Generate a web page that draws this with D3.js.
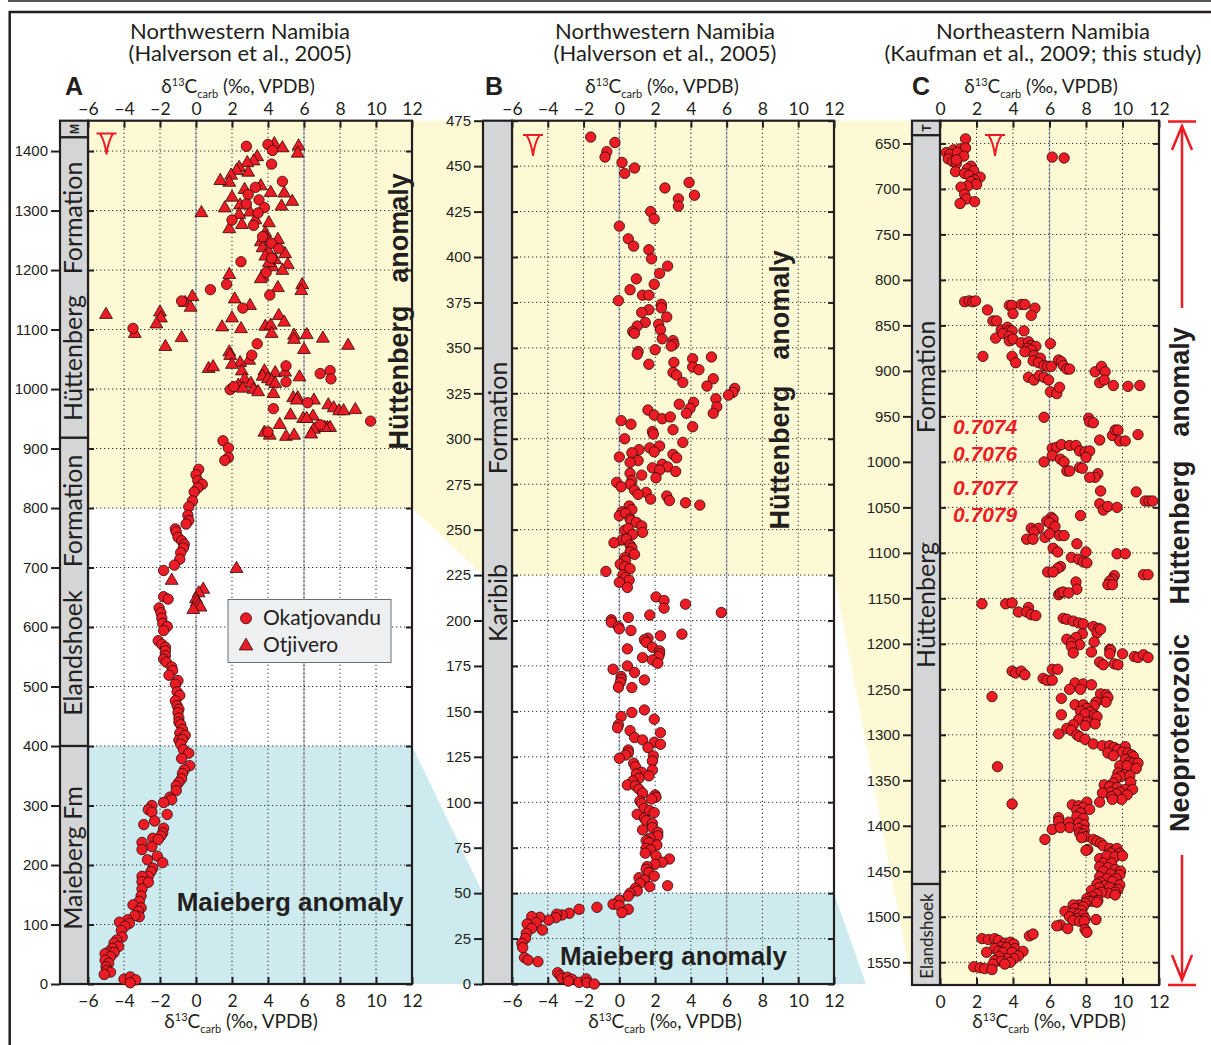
<!DOCTYPE html>
<html>
<head>
<meta charset="utf-8">
<script src="https://cdn.jsdelivr.net/npm/d3@7"></script>
<style>
  body { margin: 0; background: #fff; }
  svg { display: block; }
</style>
</head>
<body>
<svg id="fig" width="1211" height="1045"></svg>
<script>
// ---------------------------------------------------------------------------
// δ13C(carb) profiles, Namibia. Each record is [δ13C ‰ VPDB, height/depth m].
// ---------------------------------------------------------------------------
const xTicksNW = [-6, -4, -2, 0, 2, 4, 6, 8, 10, 12];
const xTicksNE = [0, 2, 4, 6, 8, 10, 12];
const yTicksA = [0, 100, 200, 300, 400, 500, 600, 700, 800, 900, 1000, 1100, 1200, 1300, 1400];
const yTicksB = [0, 25, 50, 75, 100, 125, 150, 175, 200, 225, 250, 275, 300, 325, 350, 375, 400, 425, 450, 475];
const yTicksC = [650, 700, 750, 800, 850, 900, 950, 1000, 1050, 1100, 1150, 1200, 1250, 1300, 1350, 1400, 1450, 1500, 1550];

// Panel A, Okatjovandu section (circles)
const okatjovandu = [
  [2.8,1408],[4.0,1411],[4.25,1401],[4.2,1378],[4.8,1349],[3.3,1339],[2.9,1327],[3.5,1318],[2.8,1311],[3.8,1305],
  [3.45,1296],[2.0,1284],[3.2,1275],[3.7,1256],[4.2,1245],[4.6,1236],[4.2,1220],[2.5,1214],[3.9,1196],[0.8,1167],
  [1.7,1176],[4.1,1158],[-0.8,1148],[2.6,1136],[-3.5,1102],[3.4,1076],[3.1,1057],[5.0,1039],[5.0,1012],[6.9,1026],
  [7.45,1031],[7.5,1017],[1.9,999],[2.1,1004],[4.3,967],[6.2,977],[6.9,940],[4.0,928],[9.7,946],[1.5,913],
  [1.8,901],[1.8,885],[1.6,880],[0.15,865],[0.0,856],[0.1,846],[0.35,840],[0.1,834],[-0.1,827],[-0.2,812],
  [-0.4,802],[-0.45,788],[-0.4,779],[-0.55,773],[-1.15,765],[-1.1,760],[-1.0,751],[-0.8,745],[-0.65,739],[-0.7,733],
  [-0.85,725],[-0.9,714],[-1.2,704],[-1.8,695],[-1.8,651],[-1.55,647],[-2.05,632],[-1.95,624],[-1.9,615],[-1.85,606],
  [-1.6,601],[-1.8,594],[-2.1,577],[-1.9,571],[-1.7,566],[-1.7,560],[-1.7,552],[-1.8,546],[-1.65,541],[-1.35,533],
  [-1.3,527],[-1.5,519],[-1.0,510],[-1.15,504],[-1.05,491],[-0.9,485],[-1.15,476],[-1.05,468],[-0.95,462],[-1.0,456],
  [-0.95,447],[-0.95,440],[-0.85,436],[-0.75,428],[-0.9,422],[-0.6,418],[-0.95,410],[-0.75,411],[-0.85,403],[-0.7,394],
  [-0.4,388],[-0.8,379],[-0.35,367],[-0.65,360],[-0.75,354],[-0.8,345],[-0.95,339],[-1.1,333],[-1.1,325],[-1.45,314],
  [-1.35,310],[-1.8,305],[-2.45,300],[-2.65,293],[-2.45,289],[-1.6,285],[-2.3,274],[-2.9,268],[-1.8,262],[-1.85,254],
  [-1.95,249],[-2.4,245],[-2.1,243],[-3.0,238],[-2.45,231],[-3.0,226],[-2.15,215],[-2.7,209],[-1.85,204],[-2.4,195],
  [-2.5,189],[-2.65,181],[-3.0,181],[-3.0,172],[-2.65,171],[-3.0,160],[-3.05,148],[-3.15,139],[-3.5,133],[-3.05,128],
  [-3.2,122],[-3.15,113],[-3.4,115],[-3.8,108],[-3.7,102],[-4.25,104],[-3.95,97],[-4.15,90],[-4.1,79],[-4.4,74],
  [-4.55,69],[-4.3,63],[-4.65,60],[-4.85,54],[-4.55,53],[-5.05,51],[-4.75,46],[-5.05,40],[-4.85,35],[-5.0,29],
  [-4.95,23],[-4.75,20],[-5.1,16],[-4.0,8],[-3.65,12],[-3.35,7],[-3.65,2]
];

// Panel A, Otjivero section (triangles)
const otjivero = [
  [4.35,1412],[4.8,1405],[5.7,1408],[5.65,1396],[3.4,1390],[3.2,1383],[2.85,1380],[2.9,1364],[2.4,1372],[2.25,1367],
  [1.95,1359],[1.85,1347],[1.35,1350],[2.7,1335],[3.6,1341],[4.15,1330],[4.9,1329],[2.0,1322],[5.35,1315],[0.3,1296],
  [1.6,1304],[2.45,1309],[3.0,1297],[2.4,1293],[4.75,1307],[4.05,1279],[2.55,1276],[3.3,1284],[1.85,1269],[3.85,1262],
  [3.6,1247],[3.9,1254],[4.55,1251],[3.7,1237],[4.95,1227],[4.05,1230],[3.85,1223],[4.4,1217],[5.1,1209],[4.8,1199],
  [4.25,1205],[4.05,1212],[1.85,1192],[3.7,1189],[3.6,1185],[5.9,1175],[5.85,1165],[4.55,1170],[2.15,1151],[3.0,1140],
  [-0.2,1155],[-0.6,1145],[-0.3,1137],[-5.0,1125],[-2.0,1129],[-1.95,1119],[-2.2,1109],[2.0,1119],[4.6,1123],[4.9,1112],
  [1.45,1104],[2.5,1101],[3.85,1105],[4.15,1107],[4.2,1093],[5.45,1090],[6.15,1091],[5.45,1083],[7.05,1085],[8.45,1073],
  [-3.4,1093],[-0.8,1086],[-1.7,1071],[6.0,1066],[1.85,1062],[1.9,1056],[2.95,1048],[2.45,1044],[2.0,1041],[0.7,1034],
  [0.95,1037],[2.55,1030],[3.8,1030],[4.4,1027],[4.95,1028],[3.7,1021],[5.75,1020],[4.0,1017],[4.2,1013],[4.4,1009],
  [2.7,1016],[3.05,1009],[2.35,1006],[2.6,1001],[3.2,999],[3.45,995],[4.3,992],[5.4,985],[5.65,985],[5.6,981],
  [6.55,981],[7.35,973],[7.65,968],[7.95,963],[8.2,963],[8.85,965],[5.25,956],[6.5,954],[5.95,950],[6.15,950],
  [4.65,940],[6.55,932],[6.4,924],[7.3,935],[7.45,935],[7.15,935],[3.8,927],[4.1,922],[5.0,920],[5.45,922],
  [-1.35,678],[2.25,698],[0.4,663],[0.15,657],[0.0,647],[0.05,642],[0.15,637],[0.25,633],[-0.15,629]
];

// Panel B, Karibib Formation section
const karibib = [
  [-1.6,466],[-0.25,463],[-0.7,458],[-0.8,455],[0.15,452],[0.85,449],[0.3,446],[3.9,441],[2.55,438],[4.2,434],
  [3.3,432],[3.3,428],[1.75,425],[1.95,421],[0.0,417],[0.5,410],[0.8,406],[1.65,404],[1.8,399],[2.7,395],
  [2.25,391],[0.95,388],[1.95,385],[0.6,382],[1.3,379],[1.65,379],[-0.05,376],[2.35,374],[2.35,372],[1.65,371],
  [1.25,369.5],[2.65,367],[1.45,364],[1.0,362],[2.2,363],[0.75,359],[0.85,358],[2.3,360],[2.4,355],[3.0,354],
  [3.05,352],[2.9,351],[2.0,349],[1.05,348],[1.0,346.5],[4.1,344],[5.15,345],[3.05,342],[4.1,339.5],[1.65,341],
  [4.45,338],[3.0,336.5],[3.2,335],[5.25,333],[3.55,331],[4.9,329],[6.45,327.7],[6.35,325.5],[6.1,324],[5.4,322],
  [4.15,320],[3.35,319],[5.45,317.6],[3.95,316.7],[3.75,314],[5.25,314],[1.6,315.8],[1.95,313],[2.4,311],[2.85,312],
  [0.1,310],[0.65,308],[4.1,306.6],[3.0,305],[1.85,304],[1.9,302.6],[0.3,300],[3.55,298],[2.25,296],[1.7,295],
  [1.1,294],[1.95,292.8],[0.7,292.3],[3.0,291.4],[3.2,289.5],[0.0,290],[1.05,288],[0.6,287],[2.4,286],[2.7,284.5],
  [1.85,284],[2.25,282.8],[3.15,282],[0.6,281],[1.25,280],[2.05,278.5],[0.7,277],[-0.15,276],[0.6,275],[0.1,273.6],
  [0.85,271.7],[1.5,270.5],[1.05,269.4],[2.65,268.5],[1.75,266.8],[2.8,266],[3.7,264.8],[4.5,263.5],[0.55,263],[0.7,261],
  [0.15,259.8],[0.0,257.6],[0.35,259],[0.6,256],[0.65,255],[0.95,254],[1.25,252],[1.3,248.5],[0.3,249.7],[0.5,250.6],
  [0.75,247.4],[0.15,244.3],[0.4,244.8],[-0.3,242.8],[0.6,241.5],[0.7,240],[0.6,237.8],[0.85,236.4],[0.3,234.5],[0.35,233],
  [0.05,231],[0.3,229.6],[0.6,228.5],[-0.75,227],[0.2,225],[0.35,223.7],[0.55,222.2],[0.0,221],[0.45,218.2],[2.05,213],
  [2.5,211],[3.7,209],[2.5,206.8],[5.7,204.4],[1.7,203],[0.5,201.7],[-0.45,200.4],[-0.45,199],[-0.05,196.7],[0.0,195.4],
  [0.65,194.5],[3.5,192.5],[2.3,191.6],[1.6,190.3],[1.4,189.4],[1.5,188],[1.85,185.3],[0.45,184.4],[2.25,183.3],[2.25,181.7],
  [2.2,180.2],[1.3,179.6],[1.85,178.3],[2.15,176.5],[0.45,175],[-0.35,173.2],[0.85,171.4],[0.1,169.2],[0.1,167.7],[1.4,167.3],
  [0.05,165.9],[-0.05,163.3],[0.7,163.1],[1.4,150.8],[0.7,149.4],[0.1,147.2],[1.95,145.7],[-0.05,142.6],[-0.1,141],[0.6,139.4],
  [2.3,138.3],[0.85,135.6],[1.3,134.3],[1.95,133],[2.3,131.9],[1.6,130.1],[0.5,128.8],[0.5,127.3],[0.35,126],[0.0,124.2],
  [1.9,125.5],[1.85,122.7],[1.85,117.8],[0.8,121.5],[0.9,119.6],[1.25,116.5],[1.65,114.5],[0.95,115.6],[1.1,113.2],[0.75,111.7],
  [0.45,109.5],[0.9,109],[1.1,107.2],[1.3,105],[2.0,104],[2.05,102.8],[1.8,101.8],[1.15,100.7],[1.25,99.4],[1.4,96.7],
  [1.7,95.4],[1.95,94.3],[1.0,93.4],[1.4,91.2],[1.5,89.9],[1.85,88.4],[1.85,86.1],[1.3,84.8],[2.15,83.5],[2.15,81.5],
  [1.7,80.2],[1.5,78.9],[1.65,77.8],[2.1,76.5],[1.5,74.7],[1.75,73.8],[1.45,72],[2.05,70.5],[2.8,68.8],[2.4,67],
  [2.0,65.9],[1.55,64.6],[1.5,63.1],[1.65,61.3],[1.95,59.4],[1.1,58.5],[1.4,57.2],[2.7,54.1],[1.7,53.6],[1.15,55.4],
  [0.9,52.7],[1.0,51.2],[0.6,50],[0.5,48.4],[0.0,46.2],[-0.35,43.9],[0.0,43.1],[-1.25,42.2],[0.5,41.1],[0.15,39.3],
  [-2.25,41.1],[-2.8,38.9],[-3.2,38],[-3.5,38.4],[-3.55,36.5],[-3.95,35.2],[-4.45,36.7],[-4.9,37.1],[-4.65,33.8],[-5.15,33],
  [-4.9,30.6],[-4.3,29.7],[-5.2,27.9],[-5.25,25.1],[-5.45,22.4],[-5.4,20],[-5.3,14.5],[-5.1,13.2],[-4.55,12.3],[-3.45,6.2],
  [-3.3,4.6],[-3.2,3.1],[-2.9,3.7],[-2.65,2.6],[-2.85,1.6],[-2.25,0.9],[-1.85,2.8],[-1.8,0.7],[-1.4,0]
];

// Panel C, northeastern Namibia drill core (depth, m)
const northeastCore = [
  [1.4,645],[0.35,660],[0.75,657],[1.1,656],[1.4,655],[0.55,662],[0.95,660],[1.3,664],[0.45,667],[0.7,670],
  [0.9,672],[0.9,668],[1.7,675],[1.5,678],[0.85,681],[1.35,683],[1.85,680],[1.6,685],[2.2,687],[1.9,690],
  [1.7,692],[2.0,695],[1.5,697],[1.15,698],[1.35,706],[1.45,711],[1.9,714],[1.1,716],[6.15,665],[6.8,666],
  [1.35,824],[1.6,823],[1.8,824],[1.95,823],[2.6,833],[3.8,828],[3.95,828],[4.45,827],[4.65,827],[5.2,831],
  [4.0,837],[5.0,839],[2.9,845],[3.1,845],[3.35,855],[3.7,852],[3.75,856],[3.95,856],[4.6,856],[3.05,864],
  [3.45,859],[3.8,862],[3.8,867],[4.0,865],[4.45,869],[4.85,868],[5.0,872],[5.25,873],[4.8,875],[5.0,877],
  [4.65,879],[6.05,870],[5.15,883],[5.5,886],[3.95,884],[2.35,884],[4.15,891],[5.1,889],[5.4,891],[5.7,894],
  [5.9,895],[6.1,895],[6.5,888],[6.65,890],[6.75,894],[6.95,898],[7.1,898],[4.85,907],[5.15,910],[5.45,905],
  [5.7,907],[5.95,910],[6.05,923],[6.4,925],[6.55,918],[8.5,901],[8.85,895],[9.05,901],[8.75,913],[9.0,910],
  [9.5,916],[10.3,917],[10.95,916],[5.7,951],[8.15,952],[8.2,956],[8.4,957],[9.45,971],[9.6,965],[9.75,965],
  [9.85,977],[10.15,977],[10.85,970],[8.75,976],[5.7,1000],[6.15,985],[6.4,984],[6.15,993],[6.65,981],[7.1,982],
  [7.45,982],[7.65,988],[7.95,989],[8.2,988],[8.0,995],[6.6,997],[6.8,1000],[6.95,1010],[7.1,1010],[7.65,1006],
  [7.8,1007],[8.65,1013],[8.5,1017],[8.2,1017],[8.8,1032],[10.75,1033],[11.25,1043],[11.45,1043],[11.65,1043],[8.75,1046],
  [8.95,1053],[9.2,1049],[9.7,1050],[7.7,1059],[6.1,1061],[6.2,1063],[5.85,1065],[6.0,1067],[6.3,1071],[5.0,1073],
  [5.4,1073],[5.15,1077],[4.75,1085],[5.1,1085],[5.75,1083],[6.0,1079],[6.55,1081],[6.8,1081],[6.2,1095],[6.45,1099],
  [7.5,1090],[8.0,1099],[7.2,1105],[7.6,1107],[7.85,1110],[8.05,1111],[9.7,1101],[10.15,1101],[6.6,1115],[6.45,1117],
  [5.9,1121],[6.2,1121],[9.55,1125],[9.45,1129],[9.3,1131],[9.2,1135],[9.45,1135],[11.15,1124],[11.4,1124],[7.45,1132],
  [7.5,1140],[6.5,1146],[6.6,1144],[6.75,1143],[7.05,1144],[2.3,1156],[3.6,1156],[3.95,1155],[4.3,1165],[4.85,1160],
  [4.75,1165],[5.0,1168],[5.25,1169],[6.75,1172],[6.95,1173],[7.3,1175],[7.6,1177],[7.85,1178],[8.4,1181],[8.7,1183],
  [8.6,1188],[8.8,1184],[7.8,1189],[6.95,1195],[7.45,1193],[7.2,1199],[7.65,1201],[8.45,1198],[7.2,1203],[7.3,1210],
  [8.3,1209],[9.3,1206],[9.35,1207],[9.3,1211],[10.0,1211],[10.65,1214],[10.85,1215],[11.15,1212],[11.4,1215],[8.75,1220],
  [8.95,1223],[9.55,1222],[9.75,1223],[3.95,1230],[4.15,1232],[4.45,1230],[4.65,1234],[6.15,1228],[6.45,1228],[5.65,1238],
  [5.85,1240],[6.15,1240],[7.4,1243],[7.85,1244],[8.3,1245],[7.1,1250],[7.7,1250],[2.85,1258],[8.8,1255],[9.1,1256],
  [9.2,1259],[9.1,1264],[6.65,1260],[7.4,1267],[7.85,1267],[8.55,1264],[8.45,1268],[8.05,1271],[7.7,1274],[8.2,1275],
  [7.95,1277],[6.65,1278],[8.45,1278],[8.6,1280],[7.6,1283],[8.05,1286],[8.5,1288],[7.3,1289],[7.95,1290],[6.95,1293],
  [7.2,1295],[6.5,1299],[7.5,1300],[7.65,1302],[7.95,1305],[8.4,1310],[8.9,1312],[9.3,1312],[9.55,1314],[9.75,1316],
  [10.15,1313],[10.0,1319],[10.3,1320],[10.5,1322],[10.6,1324],[9.2,1320],[9.5,1323],[10.15,1327],[10.4,1330],[10.6,1331],
  [10.85,1331],[9.85,1334],[10.25,1334],[10.75,1337],[3.15,1335],[3.95,1376],[9.75,1342],[10.1,1344],[9.9,1346],[9.65,1348],
  [10.4,1345],[10.45,1352],[9.5,1353],[9.0,1355],[9.3,1357],[9.7,1358],[10.15,1360],[10.55,1360],[9.35,1363],[9.85,1363],
  [8.9,1364],[9.65,1365],[10.25,1366],[9.4,1368],[9.95,1371],[9.45,1371],[8.75,1374],[8.05,1374],[7.25,1377],[7.6,1378],
  [7.85,1380],[8.2,1382],[7.5,1383],[7.7,1386],[7.5,1390],[7.85,1392],[6.5,1391],[6.5,1395],[7.05,1396],[7.6,1397],
  [7.9,1399],[7.1,1402],[7.6,1403],[6.15,1404],[6.6,1402],[7.9,1405],[7.65,1408],[7.85,1409],[7.95,1412],[5.75,1415],
  [7.75,1413],[8.4,1415],[8.6,1417],[8.8,1419],[8.1,1426],[8.0,1427],[8.95,1422],[9.3,1425],[9.55,1427],[9.7,1425],
  [9.85,1430],[9.35,1430],[8.75,1436],[9.15,1433],[9.6,1434],[10.0,1433],[8.95,1441],[9.4,1441],[8.75,1445],[9.2,1446],
  [9.6,1448],[9.9,1450],[8.95,1450],[9.35,1453],[9.85,1454],[8.75,1456],[9.15,1458],[9.65,1458],[9.45,1461],[8.8,1462],
  [8.6,1464],[9.85,1465],[9.05,1466],[9.3,1468],[8.7,1468],[9.75,1470],[8.3,1471],[9.6,1473],[9.2,1474],[8.85,1473],
  [8.6,1475],[9.6,1476],[8.35,1478],[8.05,1480],[8.15,1483],[8.4,1483],[8.65,1482],[7.95,1485],[8.6,1484],[7.6,1487],
  [7.3,1487],[7.85,1489],[7.4,1491],[7.75,1493],[6.85,1494],[7.25,1496],[7.6,1497],[7.85,1498],[7.1,1500],[7.5,1502],
  [7.95,1502],[7.3,1504],[8.55,1503],[7.65,1505],[7.9,1505],[6.6,1509],[6.4,1510],[7.0,1513],[7.95,1514],[8.05,1517],
  [4.9,1521],[5.1,1519],[2.3,1524],[2.65,1525],[3.0,1524],[3.2,1526],[3.55,1529],[3.85,1528],[4.05,1530],[3.35,1533],
  [3.0,1535],[3.65,1534],[4.1,1535],[2.55,1539],[3.2,1538],[3.45,1539],[3.95,1539],[4.55,1538],[4.3,1543],[4.05,1546],
  [3.65,1546],[3.25,1544],[3.0,1548],[3.35,1549],[3.85,1550],[2.9,1552],[3.55,1552],[1.85,1555],[2.2,1556],[2.45,1557],
  [2.85,1558]
];

// 87Sr/86Sr values annotated beside the core
const srRatios = ["0.7074", "0.7076", "0.7077", "0.7079"];

// Lithostratigraphic units: [label, upper bound, lower bound] in each section's units
const unitsA = [["M", 1451, 1423], ["Hüttenberg Formation", 1423, 918], ["Elandshoek Formation", 918, 400], ["Maieberg Fm", 400, 0]];
const unitsB = [["Karibib Formation", 475, 0]];
const unitsC = [["T", 625, 641], ["Hüttenberg Formation", 641, 1464], ["Elandshoek", 1464, 1575]];

// Intervals of the two carbon isotope anomalies
const huttenbergA = [800, 1451], maiebergA = [0, 400];
const huttenbergB = [225, 475], maiebergB = [0, 50];
const huttenbergC = [625, 1575];

// ---------------------------------------------------------------------------
const ink = "#231f20";
const red = "#ed1c24";
const yellow = "#fdf9d4";
const cyan = "#cdebee";
const colGray = "#d4d5d7";
const sans = "Lato, 'Open Sans', sans-serif";
const helv = "'Liberation Sans', Arial, sans-serif";

const svg = d3.select("#fig");

const panels = {
  A: { xDom: [-6, 12], xr: [88, 412], yDom: [0, 1451], yr: [984, 120.7], col: [60, 88],
       xTicks: xTicksNW, yTicks: yTicksA, units: unitsA },
  B: { xDom: [-6, 12], xr: [512, 834], yDom: [0, 475], yr: [984, 120.7], col: [483, 512],
       xTicks: xTicksNW, yTicks: yTicksB, units: unitsB },
  C: { xDom: [0, 12], xr: [940, 1159], yDom: [625, 1575], yr: [120.7, 985], col: [912, 940],
       xTicks: xTicksNE, yTicks: yTicksC, units: unitsC }
};
for (const k in panels) {
  const p = panels[k];
  p.x = d3.scaleLinear().domain(p.xDom).range(p.xr);
  p.y = d3.scaleLinear().domain(p.yDom).range(p.yr);
  p.top = Math.min(...p.yr);
  p.bot = Math.max(...p.yr);
}
const A = panels.A, B = panels.B, C = panels.C;

// ---- outer figure frame ----
svg.append("line").attr("x1", 8).attr("x2", 1211).attr("y1", 1).attr("y2", 1)
  .attr("stroke", ink).attr("stroke-width", 1.5);
svg.append("path").attr("d", "M1211,12 H9.7 V1045").attr("fill", "none")
  .attr("stroke", ink).attr("stroke-width", 2.5);

// ---- shaded anomaly bands and the correlation ribbons between sections ----
const bands = svg.append("g");
function band(p, iv, fill) {
  const y0 = p.y(iv[0]), y1 = p.y(iv[1]);
  bands.append("rect").attr("x", p.xr[0]).attr("width", p.xr[1] - p.xr[0])
    .attr("y", Math.min(y0, y1)).attr("height", Math.abs(y1 - y0)).attr("fill", fill);
}
band(A, huttenbergA, yellow);
band(A, maiebergA, cyan);
band(B, huttenbergB, yellow);
band(B, maiebergB, cyan);
band(C, huttenbergC, yellow);

const poly = pts => "M" + pts.map(q => q.join(",")).join("L") + "Z";
// A → B
bands.append("path").attr("fill", yellow).attr("d", poly([
  [A.xr[1], A.y(huttenbergA[1])], [B.col[0], B.y(huttenbergB[1])],
  [B.col[0], B.y(huttenbergB[0])], [A.xr[1], A.y(huttenbergA[0])]]));
bands.append("path").attr("fill", cyan).attr("d", poly([
  [A.xr[1], A.y(maiebergA[1])], [B.col[0], B.y(maiebergB[1])],
  [B.col[0], B.y(maiebergB[0])], [A.xr[1], A.y(maiebergA[0])]]));
// B → C
bands.append("path").attr("fill", yellow).attr("d", poly([
  [B.xr[1], B.y(huttenbergB[1])], [C.col[0], C.y(huttenbergC[0])],
  [C.col[0], C.y(huttenbergC[1])], [B.xr[1], B.y(huttenbergB[0])]]));
bands.append("path").attr("fill", cyan).attr("d", poly([
  [B.xr[1], B.y(maiebergB[1])], [B.xr[1] + 32, B.y(maiebergB[0])], [B.xr[1], B.y(maiebergB[0])]]));

// ---- per-panel frame, grid, data, axes ----
const fmt = d3.format("d");
function styleAxis(g, fontFamily, size) {
  g.select(".domain").remove();
  g.selectAll(".tick line").attr("stroke", ink).attr("stroke-width", 2);
  g.selectAll(".tick text").attr("fill", ink).attr("font-family", fontFamily).attr("font-size", size);
}

function drawPanel(p) {
  const g = svg.append("g");
  const x = p.x, y = p.y;

  // reference lines at 0 ‰ and 6 ‰
  [0, 6].filter(v => v > p.xDom[0]).forEach(v => {
    g.append("line").attr("x1", x(v)).attr("x2", x(v)).attr("y1", p.top).attr("y2", p.bot)
      .attr("stroke", "#c3c6d0").attr("stroke-width", 1.8);
  });
  // dotted grid
  const dots = g.append("g").attr("stroke", "#333").attr("stroke-width", 1)
    .attr("stroke-dasharray", "1.3,2.7");
  p.xTicks.filter(v => v > p.xDom[0] && v < p.xDom[1]).forEach(v => {
    dots.append("line").attr("x1", x(v)).attr("x2", x(v)).attr("y1", p.top).attr("y2", p.bot);
  });
  p.yTicks.filter(v => y(v) > p.top + 1 && y(v) < p.bot - 1).forEach(v => {
    dots.append("line").attr("x1", p.xr[0]).attr("x2", p.xr[1]).attr("y1", y(v)).attr("y2", y(v));
  });

  // plot border
  g.append("rect").attr("x", p.xr[0]).attr("y", p.top).attr("width", p.xr[1] - p.xr[0])
    .attr("height", p.bot - p.top).attr("fill", "none").attr("stroke", ink).attr("stroke-width", 2.2);

  // stratigraphic column
  p.units.forEach(u => {
    const y0 = y(u[1]), y1 = y(u[2]);
    g.append("rect").attr("x", p.col[0]).attr("width", p.col[1] - p.col[0])
      .attr("y", Math.min(y0, y1)).attr("height", Math.abs(y1 - y0))
      .attr("fill", colGray).attr("stroke", ink).attr("stroke-width", 2.2);
  });

  // axes: labelled top and bottom, inward ticks on all four sides
  g.append("g").attr("transform", `translate(0,${p.top})`)
    .call(d3.axisTop(x).tickValues(p.xTicks).tickFormat(fmt).tickSizeInner(-7).tickSizeOuter(0).tickPadding(6))
    .call(a => styleAxis(a, sans, 17.5));
  g.append("g").attr("transform", `translate(0,${p.bot})`)
    .call(d3.axisBottom(x).tickValues(p.xTicks).tickFormat(fmt).tickSizeInner(-7).tickSizeOuter(0).tickPadding(11))
    .call(a => styleAxis(a, sans, 17.5));
  g.append("g").attr("transform", `translate(${p.col[0]},0)`)
    .call(d3.axisLeft(y).tickValues(p.yTicks).tickFormat(fmt).tickSizeInner(9).tickSizeOuter(0).tickPadding(3))
    .call(a => styleAxis(a, helv, 15));
  g.append("g").attr("transform", `translate(${p.xr[0]},0)`)
    .call(d3.axisLeft(y).tickValues(p.yTicks).tickFormat("").tickSizeInner(-6).tickSizeOuter(0))
    .call(a => styleAxis(a, helv, 15));
  g.append("g").attr("transform", `translate(${p.xr[1]},0)`)
    .call(d3.axisRight(y).tickValues(p.yTicks).tickFormat("").tickSizeInner(-6).tickSizeOuter(0))
    .call(a => styleAxis(a, helv, 15));
  return g;
}

const markerStroke = "#2a0b0b";
function circles(p, data) {
  svg.append("g").selectAll("circle").data(data).join("circle")
    .attr("cx", d => p.x(d[0])).attr("cy", d => p.y(d[1])).attr("r", 5.2)
    .attr("fill", red).attr("stroke", markerStroke).attr("stroke-width", 0.8);
}
function triangles(p, data) {
  const sym = d3.symbol().type(d3.symbolTriangle).size(72);
  svg.append("g").selectAll("path").data(data).join("path")
    .attr("transform", d => `translate(${p.x(d[0])},${p.y(d[1])})`).attr("d", sym)
    .attr("fill", red).attr("stroke", markerStroke).attr("stroke-width", 0.8);
}

[A, B, C].forEach(drawPanel);
triangles(A, otjivero);
circles(A, okatjovandu);
circles(B, karibib);
circles(C, northeastCore);

// ---- text helpers ----
function vtext(x, y, str, size, opts = {}) {
  return svg.append("text").attr("transform", `translate(${x},${y}) rotate(-90)`)
    .attr("text-anchor", "middle").attr("font-family", opts.family || sans)
    .attr("font-size", size).attr("font-weight", opts.weight || "normal")
    .attr("fill", opts.fill || ink).text(str);
}
function htext(x, y, str, size, opts = {}) {
  return svg.append("text").attr("x", x).attr("y", y)
    .attr("text-anchor", opts.anchor || "middle").attr("font-family", opts.family || sans)
    .attr("font-size", size).attr("font-weight", opts.weight || "normal")
    .attr("font-style", opts.style || "normal").attr("fill", opts.fill || ink).text(str);
}
function axisTitle(x, y) {
  const t = svg.append("text").attr("x", x).attr("y", y).attr("text-anchor", "middle")
    .attr("font-family", sans).attr("font-size", 19).attr("fill", ink);
  t.append("tspan").text("δ");
  t.append("tspan").attr("font-size", 11).attr("dy", -7).text("13");
  t.append("tspan").attr("dy", 7).text("C");
  t.append("tspan").attr("font-size", 11).attr("dy", 5).text("carb");
  t.append("tspan").attr("dy", -5).text(" (‰, VPDB)");
}
// sequence-boundary mark: a bar with a tapering wedge below it
function unconformity(cx, yTop) {
  svg.append("path")
    .attr("d", `M${cx - 10},${yTop} H${cx + 10} ` +
               `M${cx - 6.5},${yTop} Q${cx - 1.5},${yTop + 8} ${cx},${yTop + 21} ` +
               `M${cx + 6.5},${yTop} Q${cx + 1.5},${yTop + 8} ${cx},${yTop + 21}`)
    .attr("fill", "none").attr("stroke", red).attr("stroke-width", 2).attr("stroke-linecap", "butt");
}

// section headings
[[240, "Northwestern Namibia", "(Halverson et al., 2005)"],
 [665, "Northwestern Namibia", "(Halverson et al., 2005)"],
 [1043, "Northeastern Namibia", "(Kaufman et al., 2009; this study)"]].forEach(([cx, l1, l2]) => {
  htext(cx, 38.5, l1, 22);
  htext(cx, 61, l2, 22);
});
// panel letters
htext(65, 95, "A", 25, { anchor: "start", family: helv, weight: "bold" });
htext(485, 95, "B", 25, { anchor: "start", family: helv, weight: "bold" });
htext(912, 95, "C", 25, { anchor: "start", family: helv, weight: "bold" });
// axis titles
axisTitle(238, 93); axisTitle(662, 93); axisTitle(1041, 93);
axisTitle(241, 1028); axisTitle(665, 1028); axisTitle(1049, 1028);

// stratigraphic column labels
vtext(78.5, 129, "M", 12, { family: helv, weight: "bold" });
vtext(82, 218, "Formation", 25);
vtext(82, 358, "Hüttenberg", 25);
vtext(82, 511, "Formation", 25);
vtext(82, 653, "Elandshoek", 25);
vtext(82, 858, "Maieberg Fm", 25);
vtext(507, 418, "Formation", 25);
vtext(507, 603, "Karibib", 25);
vtext(930.5, 128, "T", 12, { family: helv, weight: "bold" });
vtext(935, 377, "Formation", 25);
vtext(935, 605, "Hüttenberg", 25);
vtext(933, 936, "Elandshoek", 17);

// anomaly labels
const bold = { family: helv, weight: "bold" };
vtext(408, 228, "anomaly", 27, bold);
vtext(408, 377.5, "Hüttenberg", 27, bold);
vtext(789, 305, "anomaly", 27, bold);
vtext(789, 457.5, "Hüttenberg", 27, bold);
vtext(1189, 382, "anomaly", 27, bold);
vtext(1189, 532.5, "Hüttenberg", 27, bold);
vtext(1189, 733, "Neoproterozoic", 27, bold);
htext(176.7, 911, "Maieberg anomaly", 26, { anchor: "start", family: helv, weight: "bold" });
htext(560, 965, "Maieberg anomaly", 26, { anchor: "start", family: helv, weight: "bold" });

// Sr isotope ratios
[434, 461, 495, 522].forEach((yy, i) => {
  htext(953, yy, srRatios[i], 21, { anchor: "start", family: helv, weight: "bold", style: "italic", fill: red });
});

// sequence boundaries at the top of each section
unconformity(106.5, 133.5);
unconformity(533, 135);
unconformity(995, 135);

// Neoproterozoic range arrows beside panel C
const arrows = svg.append("g").attr("stroke", red).attr("stroke-width", 2.5).attr("fill", "none");
arrows.append("path").attr("d", "M1168,121.5 H1196 M1182,125 V308 M1172,150 L1182,126 L1192,150");
arrows.append("path").attr("d", "M1168,985 H1196 M1182,855 V981 M1172,955 L1182,980 L1192,955");

// legend
const lg = svg.append("g");
lg.append("rect").attr("x", 228).attr("y", 599.5).attr("width", 163).attr("height", 63)
  .attr("fill", "#eeeff1").attr("stroke", "#6d6e71").attr("stroke-width", 1);
lg.append("circle").attr("cx", 246).attr("cy", 618.3).attr("r", 5.5)
  .attr("fill", red).attr("stroke", markerStroke).attr("stroke-width", 0.8);
lg.append("path").attr("transform", "translate(246,646)")
  .attr("d", d3.symbol().type(d3.symbolTriangle).size(80))
  .attr("fill", red).attr("stroke", markerStroke).attr("stroke-width", 0.8);
htext(263, 625, "Okatjovandu", 21, { anchor: "start" });
htext(263, 652, "Otjivero", 21, { anchor: "start" });
</script>
</body>
</html>
